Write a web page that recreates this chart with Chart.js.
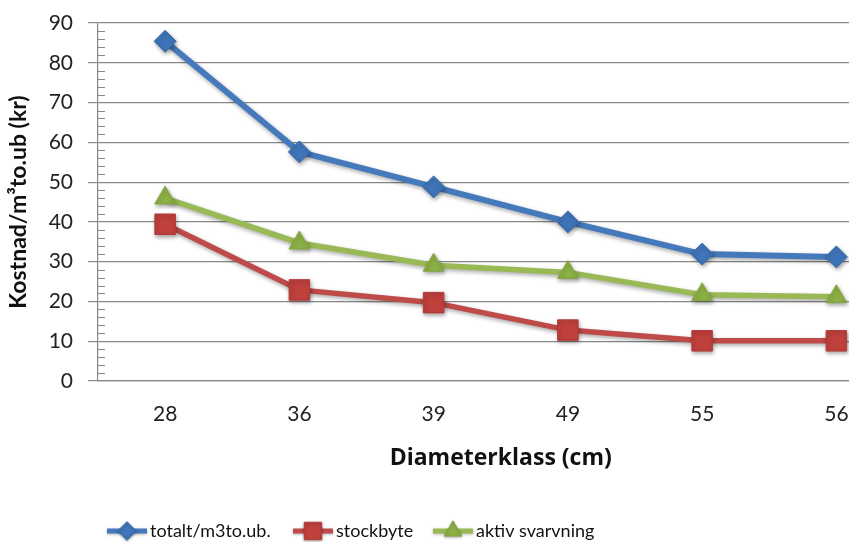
<!DOCTYPE html>
<html>
<head>
<meta charset="utf-8">
<script src="https://cdn.jsdelivr.net/npm/chart.js@4.4.1/dist/chart.umd.min.js"></script>
<style>
  html, body { margin: 0; padding: 0; background: #fff; overflow: hidden; }
  #wrap { width: 849px; height: 542px; overflow: hidden; }
</style>
</head>
<body>
<div id="wrap"><canvas id="c" width="919" height="542"></canvas></div>
<script>
// Cost per m3 by diameter class
const categories = ['28', '36', '39', '49', '55', '56'];
const totalt = [85.4, 57.6, 48.8, 40.0, 31.9, 31.2];
const stockbyte = [39.4, 22.9, 19.7, 12.8, 10.1, 10.1];
const aktivSvarvning = [46.0, 34.7, 29.1, 27.3, 21.7, 21.2];
const yTicks = [0, 10, 20, 30, 40, 50, 60, 70, 80, 90];

const FONT = "Lato, 'Open Sans', sans-serif";
const WIDE = "'Open Sans', Lato, sans-serif";
const GRID = '#888888';

// soft drop shadow under lines and markers
const shadowPlugin = {
  id: 'shadow',
  beforeDatasetDraw(chart) {
    const ctx = chart.ctx;
    ctx.save();
    ctx.shadowColor = 'rgba(0,0,0,0.35)';
    ctx.shadowBlur = 4;
    ctx.shadowOffsetX = 1;
    ctx.shadowOffsetY = 2;
  },
  afterDatasetDraw(chart) { chart.ctx.restore(); }
};

// minor tick marks on the value axis, pointing into the plot
const minorTicks = {
  id: 'minorTicks',
  afterDraw(chart) {
    const y = chart.scales.y, ctx = chart.ctx;
    const x0 = chart.chartArea.left;
    ctx.save();
    ctx.strokeStyle = GRID;
    ctx.lineWidth = 1;
    for (let v = y.min; v <= y.max; v += 2) {
      if (v % 10 === 0) continue;
      const py = Math.round(y.getPixelForValue(v)) + 0.5;
      ctx.beginPath();
      ctx.moveTo(x0, py);
      ctx.lineTo(x0 + 7, py);
      ctx.stroke();
    }
    ctx.restore();
  }
};

// legend row under the axis title
const legendRow = {
  id: 'legendRow',
  afterDraw(chart) {
    const ctx = chart.ctx;
    const starts = [107, 293, 433];
    const cy = 531;
    ctx.save();
    chart.data.datasets.forEach((ds, i) => {
      const x = starts[i];
      ctx.save();
      ctx.shadowColor = 'rgba(0,0,0,0.3)';
      ctx.shadowBlur = 3;
      ctx.shadowOffsetY = 1;
      ctx.strokeStyle = ds.borderColor;
      ctx.lineWidth = 5;
      ctx.beginPath();
      ctx.moveTo(x, cy);
      ctx.lineTo(x + 40, cy);
      ctx.stroke();
      ctx.fillStyle = ds.pointBackgroundColor;
      ctx.strokeStyle = ds.pointBorderColor;
      ctx.lineWidth = 1;
      Chart.helpers.drawPoint(ctx, {pointStyle: ds.pointStyle, radius: ds.pointRadius * 0.85, borderWidth: 1}, x + 20, cy);
      ctx.restore();
      ctx.fillStyle = '#111';
      ctx.font = "18px " + FONT;
      ctx.textBaseline = 'middle';
      ctx.fillText(ds.label, x + 43, cy);
    });
    ctx.restore();
  }
};

new Chart(document.getElementById('c'), {
  type: 'line',
  data: {
    labels: categories,
    datasets: [
      {
        label: 'totalt/m3to.ub.', data: totalt,
        borderColor: '#4479bb', borderWidth: 6,
        pointStyle: 'rectRot', pointRadius: 11,
        pointBackgroundColor: '#3f74b8', pointBorderColor: '#3a6cab', pointBorderWidth: 1,
        tension: 0
      },
      {
        label: 'stockbyte', data: stockbyte,
        borderColor: '#be4b48', borderWidth: 5.5,
        pointStyle: 'rect', pointRadius: 14.5,
        pointBackgroundColor: '#c0403c', pointBorderColor: '#b23c39', pointBorderWidth: 1,
        tension: 0
      },
      {
        label: 'aktiv svarvning', data: aktivSvarvning,
        borderColor: '#98b954', borderWidth: 5.5,
        pointStyle: 'triangle', pointRadius: 12,
        pointBackgroundColor: '#8db146', pointBorderColor: '#86a843', pointBorderWidth: 1,
        tension: 0
      }
    ]
  },
  options: {
    responsive: false,
    animation: false,
    layout: { padding: { left: 0, top: 23, right: 2, bottom: 66 } },
    plugins: {
      legend: { display: false },
      tooltip: { enabled: false }
    },
    scales: {
      x: {
        type: 'category',
        offset: true,
        afterFit(scale) { scale.paddingLeft = 0; scale.paddingRight = 0; scale.height = 95; },
        grid: { display: false, drawTicks: false },
        border: { display: true, color: GRID, width: 1.2 },
        ticks: { color: '#222', font: { family: FONT, size: 21 }, padding: 21 },
        title: {
          display: true, text: 'Diameterklass (cm)', color: '#111',
          font: { family: WIDE, size: 23, weight: 'bold' },
          padding: { top: 0, bottom: 4 }
        }
      },
      y: {
        min: 0, max: 90,
        afterBuildTicks(scale) { scale.ticks = yTicks.map(v => ({ value: v })); },
        afterFit(scale) { scale.width = 98; scale.paddingTop = 0; scale.paddingBottom = 0; },
        grid: { color: GRID, lineWidth: 1.2, tickLength: 10, drawTicks: true },
        border: { display: true, color: GRID, width: 1.2 },
        ticks: { color: '#222', font: { family: FONT, size: 21 }, padding: 15 },
        title: {
          display: true, text: 'Kostnad/m³to.ub (kr)', color: '#111',
          font: { family: FONT, size: 23, weight: 'bold' },
          padding: { top: 5, bottom: 0 }
        }
      }
    }
  },
  plugins: [shadowPlugin, minorTicks, legendRow]
});
</script>
</body>
</html>
